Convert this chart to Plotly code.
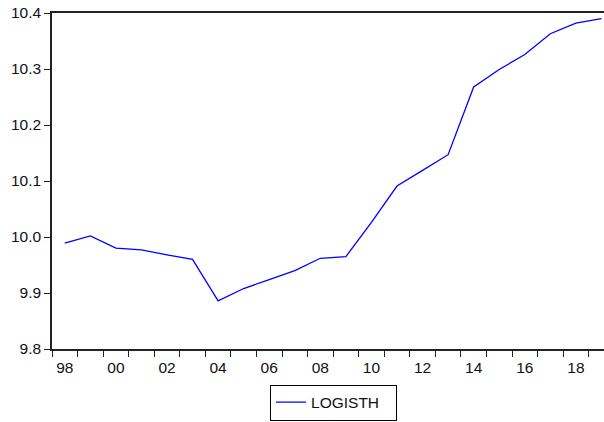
import plotly.graph_objects as go

years = list(range(1998, 2020))
logisth = [9.989, 10.002, 9.980, 9.977, 9.968, 9.960, 9.886, 9.908, 9.924, 9.940,
           9.962, 9.965, 10.026, 10.091, 10.119, 10.147, 10.268, 10.299, 10.326,
           10.363, 10.382, 10.390]
label_years = list(range(1998, 2020, 2))
label_text = ["98", "00", "02", "04", "06", "08", "10", "12", "14", "16", "18"]
y_ticks = [9.8, 9.9, 10.0, 10.1, 10.2, 10.3, 10.4]

fig = go.Figure()
fig.add_trace(go.Scatter(x=years, y=logisth, mode="lines", name="LOGISTH",
                         line=dict(color="#0000FF", width=1.3)))

font = dict(family="Liberation Sans, Arial, sans-serif", size=15.5, color="#111111")

fig.update_layout(
    width=604, height=422,
    margin=dict(l=52, r=0, t=13, b=73, autoexpand=False),
    paper_bgcolor="white", plot_bgcolor="white",
    font=font,
    showlegend=True,
    legend=dict(x=0.51, y=-0.213, xanchor="center", yanchor="bottom",
                orientation="h", entrywidth=80,
                bordercolor="#000000", borderwidth=1, bgcolor="white",
                font=font),
    xaxis=dict(range=[1997.5, 2019.1], tickmode="array", tickvals=label_years,
               ticktext=label_text, ticks="outside", ticklen=4,
               tickcolor="rgba(0,0,0,0)", showgrid=False, zeroline=False,
               showline=True, linecolor="#222222", linewidth=1.5, mirror=True,
               minor=dict(tickmode="linear", tick0=1997.5, dtick=1, ticks="outside",
                          ticklen=6, tickcolor="#222222", tickwidth=1, showgrid=False)),
    yaxis=dict(range=[9.8, 10.4], tickmode="array", tickvals=y_ticks,
               tickformat=".1f", ticks="outside", ticklen=6, tickcolor="#222222",
               showgrid=False, zeroline=False, showline=True, linecolor="#222222",
               linewidth=1.5),
)

fig.write_html("out.html", config={"displayModeBar": False},
               post_script="document.body.style.margin='0';")
